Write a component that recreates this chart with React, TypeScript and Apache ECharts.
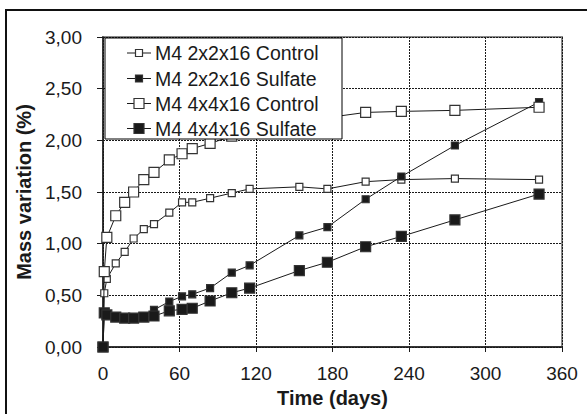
import React, { useEffect, useRef } from "react";
import * as echarts from "echarts";

const days = [0, 1, 3, 10, 17, 24, 32, 40, 52, 62, 70, 84, 101, 115, 154, 176, 206, 234, 276, 342];
const control2 = [0, 0.52, 0.66, 0.81, 0.92, 1.05, 1.14, 1.19, 1.3, 1.4, 1.4, 1.44, 1.49, 1.53, 1.55, 1.53, 1.6, 1.62, 1.63, 1.62];
const sulfate2 = [0, 0.33, 0.31, 0.29, 0.28, 0.28, 0.29, 0.36, 0.44, 0.49, 0.51, 0.57, 0.72, 0.79, 1.08, 1.16, 1.43, 1.65, 1.95, 2.37];
const control4 = [0, 0.73, 1.06, 1.27, 1.4, 1.5, 1.62, 1.69, 1.81, 1.87, 1.92, 1.97, 2.04, 2.09, 2.18, 2.22, 2.27, 2.28, 2.29, 2.32];
const sulfate4 = [0, 0.33, 0.31, 0.29, 0.28, 0.28, 0.29, 0.3, 0.35, 0.365, 0.375, 0.445, 0.525, 0.57, 0.74, 0.82, 0.97, 1.07, 1.23, 1.48];
const seriesNames = ["M4 2x2x16 Control", "M4 2x2x16 Sulfate", "M4 4x4x16 Control", "M4 4x4x16 Sulfate"];
const xTicks = [0, 60, 120, 180, 240, 300, 360];

const FONT = "'Liberation Sans', Arial, sans-serif";

export default function App() {
  const ref = useRef<HTMLDivElement>(null);
  useEffect(() => {
    if (!ref.current) return;
    const chart = echarts.init(ref.current, null, { renderer: "svg" });
    const mk = (vals: number[]) => days.map((d, i) => [d, vals[i]]);
    const styles = [
      { size: 7, fill: "#fff" },
      { size: 7, fill: "#1a1a1a" },
      { size: 10, fill: "#fff" },
      { size: 10, fill: "#1a1a1a" },
    ];
    const allVals = [control2, sulfate2, control4, sulfate4];
    const series = allVals.map((v, i) => ({
      name: seriesNames[i],
      type: "line",
      data: mk(v),
      symbol: "rect",
      symbolSize: styles[i].size,
      lineStyle: { color: "#1a1a1a", width: 1 },
      itemStyle: { color: styles[i].fill, borderColor: "#333", borderWidth: 1.2, opacity: 1 },
      z: 3 + i,
    }));
    const rowY = [53, 78.5, 103.5, 128.5];
    const legendEls: any[] = [
      {
        type: "rect",
        shape: { x: 105, y: 38, width: 237, height: 101 },
        style: { fill: "#fff", stroke: "#000", lineWidth: 1 },
        z: 100,
      },
    ];
    rowY.forEach((y, i) => {
      const s = styles[i].size;
      legendEls.push({
        type: "line",
        shape: { x1: 127, y1: y, x2: 151, y2: y },
        style: { stroke: "#1a1a1a", lineWidth: 1 },
        z: 101,
      });
      legendEls.push({
        type: "rect",
        shape: { x: 139 - s / 2, y: y - s / 2, width: s, height: s },
        style: { fill: styles[i].fill, stroke: "#333", lineWidth: 1.2 },
        z: 102,
      });
      legendEls.push({
        type: "text",
        x: 155,
        y: y,
        style: {
          text: seriesNames[i],
          font: `19.5px ${FONT}`,
          fill: "#1a1a1a",
          verticalAlign: "middle",
          align: "left",
        },
        z: 102,
      });
    });
    chart.setOption({
      animation: false,
      backgroundColor: "#fff",
      grid: {
        left: 103,
        top: 37,
        right: 25,
        bottom: 67,
        show: true,
        borderColor: "#8a8a8a",
        borderWidth: 2,
        backgroundColor: "transparent",
      },
      xAxis: {
        type: "value",
        min: 0,
        max: 360,
        interval: 60,
        name: "Time (days)",
        nameLocation: "middle",
        nameGap: 41,
        nameTextStyle: { fontFamily: FONT, fontSize: 20, fontWeight: "bold", color: "#1a1a1a" },
        axisLine: { show: true, lineStyle: { color: "#1a1a1a", width: 1.5 } },
        axisTick: { show: true, inside: false, length: 5, lineStyle: { color: "#1a1a1a" } },
        axisLabel: {
          fontFamily: FONT,
          fontSize: 19,
          color: "#1a1a1a",
          margin: 17,
          formatter: (v: number) => (xTicks.includes(v) ? String(v) : ""),
        },
        splitLine: { show: true, lineStyle: { color: "#1a1a1a", type: [2, 1], width: 1 } },
      },
      yAxis: {
        type: "value",
        min: 0,
        max: 3,
        interval: 0.5,
        name: "Mass variation (%)",
        nameLocation: "middle",
        nameGap: 65,
        nameTextStyle: { fontFamily: FONT, fontSize: 20, fontWeight: "bold", color: "#1a1a1a" },
        axisLine: { show: true, lineStyle: { color: "#1a1a1a", width: 1.5 } },
        axisTick: { show: true, inside: false, length: 6, lineStyle: { color: "#1a1a1a" } },
        axisLabel: {
          fontFamily: FONT,
          fontSize: 19,
          color: "#1a1a1a",
          margin: 21,
          formatter: (v: number) => v.toFixed(2).replace(".", ","),
        },
        splitLine: { show: true, lineStyle: { color: "#1a1a1a", type: [2, 1], width: 1 } },
      },
      graphic: [
        {
          type: "rect",
          shape: { x: 6, y: 10, width: 600, height: 420 },
          style: { fill: "none", stroke: "#111", lineWidth: 2 },
          z: 50,
          silent: true,
        },
        ...legendEls,
      ],
      series,
    });
    return () => chart.dispose();
  }, []);
  return (
    <div
      ref={ref}
      style={{ position: "absolute", left: 0, top: 0, width: 587, height: 414 }}
    />
  );
}
